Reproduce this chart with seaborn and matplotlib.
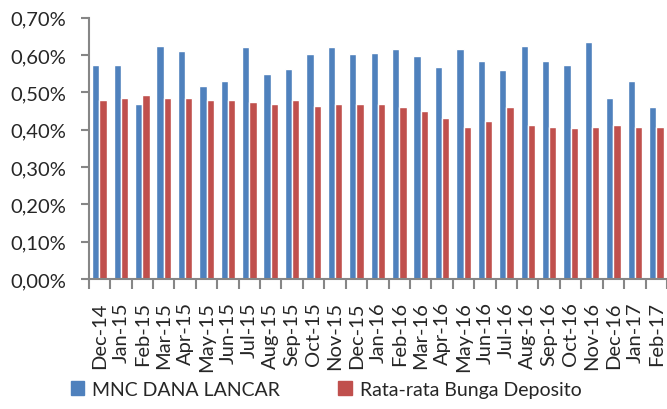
import pandas as pd
import seaborn as sns
import matplotlib.pyplot as plt
from matplotlib.ticker import FuncFormatter, FixedLocator
from matplotlib.patches import Patch

months = ['Dec-14', 'Jan-15', 'Feb-15', 'Mar-15', 'Apr-15', 'May-15', 'Jun-15',
          'Jul-15', 'Aug-15', 'Sep-15', 'Oct-15', 'Nov-15', 'Dec-15', 'Jan-16',
          'Feb-16', 'Mar-16', 'Apr-16', 'May-16', 'Jun-16', 'Jul-16', 'Aug-16',
          'Sep-16', 'Oct-16', 'Nov-16', 'Dec-16', 'Jan-17', 'Feb-17']

# values in percent
mnc = [0.574, 0.574, 0.469, 0.625, 0.611, 0.517, 0.531, 0.622, 0.550, 0.563,
       0.603, 0.622, 0.603, 0.606, 0.617, 0.598, 0.568, 0.617, 0.584, 0.560,
       0.625, 0.584, 0.574, 0.635, 0.485, 0.531, 0.461]
deposito = [0.480, 0.485, 0.493, 0.485, 0.485, 0.480, 0.480, 0.475, 0.469, 0.480,
            0.464, 0.469, 0.469, 0.469, 0.461, 0.450, 0.432, 0.408, 0.424, 0.461,
            0.413, 0.408, 0.405, 0.408, 0.413, 0.408, 0.408]

series_names = ['MNC DANA LANCAR', 'Rata-rata Bunga Deposito']
colors = ['#4F81BD', '#C0504D']

df = pd.DataFrame({
    'bulan': months * 2,
    'nilai': mnc + deposito,
    'seri': [series_names[0]] * len(months) + [series_names[1]] * len(months),
})

sns.set_style('white')
plt.rcParams['font.family'] = ['Lato', 'DejaVu Sans']

fig = plt.figure(figsize=(6.67, 4.10), dpi=100)
ax = fig.add_axes([0.133, 0.317, 0.867, 0.637])

sns.barplot(data=df, x='bulan', y='nilai', hue='seri', palette=colors,
            width=0.68, saturation=1, ax=ax, legend=False)

ax.set_xlim(-0.5, len(months) - 0.5)
ax.set_ylim(0, 0.70)
ax.set_yticks([i / 10 for i in range(8)])
ax.yaxis.set_major_formatter(FuncFormatter(lambda v, p: f'{v:.2f}%'.replace('.', ',')))
ax.set_xlabel('')
ax.set_ylabel('')

grey = '#868686'
for s in ['top', 'right']:
    ax.spines[s].set_visible(False)
for s in ['left', 'bottom']:
    ax.spines[s].set_color(grey)
    ax.spines[s].set_linewidth(1.5)

ax.tick_params(axis='y', direction='out', length=6, width=1.5, color=grey,
               labelsize=14.5, pad=10, left=True)
ax.tick_params(axis='x', which='major', length=0, labelsize=14.5, pad=16,
               labelrotation=90)
ax.xaxis.set_minor_locator(FixedLocator([i - 0.5 for i in range(len(months) + 1)]))
ax.tick_params(axis='x', which='minor', direction='out', length=7, width=1.5,
               color=grey, bottom=True)
for lbl in ax.get_xticklabels():
    lbl.set_verticalalignment('top')

handles = [Patch(color=c, label=n) for c, n in zip(colors, series_names)]
fig.legend(handles=handles, loc='lower left', bbox_to_anchor=(0.08, -0.015),
           ncol=2, frameon=False, fontsize=14, handlelength=0.7, handleheight=0.7,
           handletextpad=0.4, columnspacing=3.0)

fig.savefig('out.png', dpi=100)
